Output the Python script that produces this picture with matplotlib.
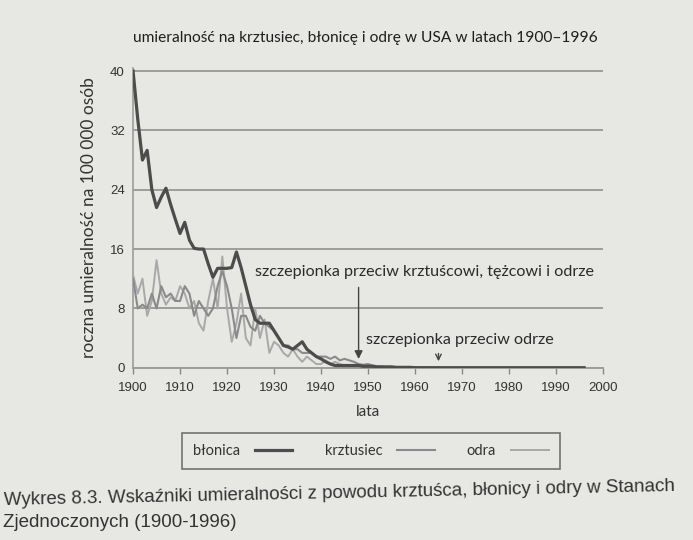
import matplotlib
matplotlib.use("Agg")
import matplotlib.pyplot as plt

years = list(range(1900, 1997))

blonica = [
    40, 33.5, 28, 29.3, 24, 21.6, 23, 24.2, 22, 20,
    18.1, 19.6, 17.2, 16.1, 16, 16, 14, 12.2, 13.4, 13.4,
    13.4, 13.5, 15.6, 13.5, 11, 8.5, 6.5, 6, 6, 6,
    5, 4, 3, 2.8, 2.5, 3, 3.5, 2.5, 2, 1.5,
    1.2, 0.8, 0.5, 0.3, 0.3, 0.3, 0.3, 0.3, 0.3, 0.2,
    0.2, 0.2, 0.1, 0.1, 0.1, 0.1, 0.05, 0.05, 0.05, 0.05,
    0, 0, 0, 0, 0, 0, 0, 0, 0, 0,
    0, 0, 0, 0, 0, 0, 0, 0, 0, 0,
    0, 0, 0, 0, 0, 0, 0, 0, 0, 0,
    0, 0, 0, 0, 0, 0, 0,
]

krztusiec = [
    12, 8, 8.5, 8, 10, 8, 11, 9.5, 10, 9,
    9, 11, 10, 7, 9, 8, 7, 8, 11, 13,
    11, 8, 4, 7, 7, 5.5, 5, 7, 6, 5.5,
    5, 4, 3, 3, 2.5, 2.5, 2, 2, 2, 1.5,
    1.5, 1.5, 1.2, 1.5, 1.0, 1.2, 1.0, 0.8, 0.5, 0.4,
    0.5, 0.3, 0.2, 0.2, 0.1, 0.1, 0.1, 0.05, 0.05, 0.05,
    0, 0, 0, 0, 0, 0, 0, 0, 0, 0,
    0, 0, 0, 0, 0, 0, 0, 0, 0, 0,
    0, 0, 0, 0, 0, 0, 0, 0, 0, 0,
    0, 0, 0, 0, 0, 0, 0,
]

odra = [
    12.5, 10, 12, 7, 9, 14.5, 10, 8.5, 9.5, 9,
    11, 10, 8, 9, 6, 5, 9, 12, 8, 15,
    8, 3.5, 6, 10, 4, 3, 8, 4, 6.5, 2,
    3.5, 3, 2, 1.5, 2.5, 1.5, 0.8, 1.5, 1, 0.5,
    0.5, 1, 0.5, 0.8, 0.5, 0.3, 0.3, 0.3, 0.3, 0.3,
    0.3, 0.2, 0.2, 0.2, 0.2, 0.2, 0.1, 0.1, 0.1, 0.1,
    0.1, 0.1, 0.1, 0.1, 0.05, 0.05, 0, 0, 0, 0,
    0, 0, 0, 0, 0, 0, 0, 0, 0, 0,
    0, 0, 0, 0, 0, 0, 0, 0, 0, 0,
    0, 0, 0, 0, 0, 0, 0,
]

xticks = list(range(1900, 2001, 10))
yticks = [0, 8, 16, 24, 32, 40]

title = "umieralność na krztusiec, błonicę i odrę w USA w latach 1900–1996"
ylabel = "roczna umieralność na 100 000 osób"
xlabel = "lata"
ann1 = "szczepionka przeciw krztuścowi, tężcowi i odrze"
ann2 = "szczepionka przeciw odrze"
caption1 = "Wykres 8.3. Wskaźniki umieralności z powodu krztuśca, błonicy i odry w Stanach"
caption2 = "Zjednoczonych (1900-1996)"

bg = "#e7e7e4"
fig = plt.figure(figsize=(6.93, 5.40), dpi=100, facecolor=bg)
ax = fig.add_axes([0.192, 0.319, 0.678, 0.555], facecolor=bg)

grid_c = "#9c9c9c"
for y in yticks:
    ax.axhline(y, color=grid_c, lw=1.4, zorder=1)

ax.plot(years, odra, color="#a8a8a8", lw=1.4, zorder=3, label="odra")
ax.plot(years, krztusiec, color="#8a8a8a", lw=1.5, zorder=4, label="krztusiec")
ax.plot(years, blonica, color="#4c4c4c", lw=2.3, zorder=5, label="błonica")

ax.set_xlim(1900, 2000)
ax.set_ylim(0, 40.4)
for s in ["top", "right"]:
    ax.spines[s].set_visible(False)
ax.spines["left"].set_color(grid_c)
ax.spines["left"].set_linewidth(1.2)
ax.spines["bottom"].set_color(grid_c)
ax.spines["bottom"].set_linewidth(1.4)
ax.set_xticks(xticks)
ax.set_yticks(yticks)
ax.tick_params(axis="x", colors="#888888", length=4, width=1, labelcolor="#333333",
               labelsize=9.5, pad=6)
ax.tick_params(axis="y", length=0, labelcolor="#333333", labelsize=9.5, pad=6)
for lab in ax.get_xticklabels() + ax.get_yticklabels():
    lab.set_fontfamily("Liberation Sans")

ax.set_xlabel(xlabel, fontsize=11, family="Lato", color="#333333", labelpad=8)
ax.set_ylabel(ylabel, fontsize=12.5, family="Lato", color="#333333")
ax.yaxis.set_label_coords(-0.077, 0.5)

ax.text(1900, 43.5, title, fontsize=11.2, family="Lato", color="#1e1e1e",
        ha="left", va="bottom")

ax.text(1926, 12.9, ann1, fontsize=11.6, family="Lato", color="#2a2a2a",
        ha="left", va="center")
ax.annotate("", xy=(1948, 0.8), xytext=(1948, 11.2),
            arrowprops=dict(arrowstyle="-|>", color="#444444", lw=1, mutation_scale=12))
ax.text(1949.5, 3.8, ann2, fontsize=11.6, family="Lato", color="#2a2a2a",
        ha="left", va="center")
ax.annotate("", xy=(1965, 0.5), xytext=(1965, 2.3),
            arrowprops=dict(arrowstyle="->", color="#444444", lw=1, mutation_scale=10))

h, l = ax.get_legend_handles_labels()
order = [2, 1, 0]
leg = fig.legend([h[i] for i in order], [l[i] for i in order], ncol=3,
                 loc="center", bbox_to_anchor=(0.535, 0.165), markerfirst=False,
                 frameon=True, fancybox=False, edgecolor="#555555", facecolor=bg,
                 prop={"family": "Lato", "size": 10.5}, handlelength=2.6,
                 columnspacing=2.2, handletextpad=1.0, borderpad=0.75)
leg.get_frame().set_linewidth(1.2)
for t in leg.get_texts():
    t.set_color("#333333")

fig.text(0.005, 0.087, caption1, fontsize=13.5, family="Liberation Sans", color="#333333",
         ha="left", va="center", rotation=1.2)
fig.text(0.005, 0.033, caption2, fontsize=13.5, family="Liberation Sans", color="#333333",
         ha="left", va="center")

fig.savefig("out.png", dpi=100, facecolor=bg)
